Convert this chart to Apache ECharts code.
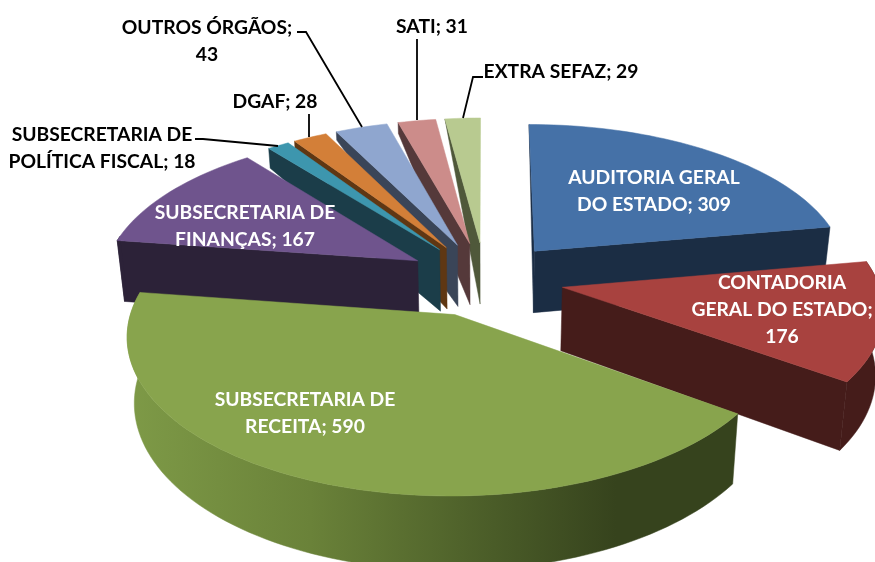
<!DOCTYPE html>
<html>
<head>
<meta charset="utf-8">
<title>Pizza 3D</title>
<script src="https://cdn.jsdelivr.net/npm/echarts@6/dist/echarts.min.js"></script>
<style>
html,body{margin:0;padding:0;background:#fff;}
#main{width:875px;height:562px;}
</style>
</head>
<body>
<div id="main"></div>
<script>
var names = ['AUDITORIA GERAL\nDO ESTADO','CONTADORIA\nGERAL DO ESTADO','SUBSECRETARIA DE\nRECEITA','SUBSECRETARIA DE\nFINANÇAS','SUBSECRETARIA DE\nPOLÍTICA FISCAL','DGAF','OUTROS ÓRGÃOS','SATI','EXTRA SEFAZ'];
var values = [309,176,590,167,18,28,43,31,29];
var valueBreak = [false,true,false,false,false,false,true,false,false];

var topColors = ['#4571A7','#A8423F','#88A44D','#6F548D','#3D96AE','#D37F38','#8FA6CF','#CC8C8A','#B8CA90'];
var wallColors = ['#1B2D44','#451C1A','#36431D','#2C2238','#1B3D49','#5F3713','#3A4558','#55393A','#4F583A'];
// altura da parede no canto de tras (fatia estreita quase some)
var farWall = [0,1,1,1,0.35,0.12,0.15,0.2,0];

var labelX = [654,782,305,245,102,275,207,432,561];
var labelY = [191,310,413,226,148,102,41,27,72];
var labelDark = [false,false,false,false,true,true,true,true,true];
var leaders = [null,null,null,null,
	[[195,139],[203,139],[278,146]],
	[[309,114],[309,137]],
	[[297,32],[306,32],[362,127]],
	[[417,39],[417,120]],
	[[483,77],[473,77],[463,118]]
];

// projecao com perspectiva
var cx = 485, cy = 279, rx = 315, ry = 149, persp = 0.125, explode = 0.25, depth = 63;

var total = 0;
for(var i = 0;i<values.length;i++){
	total += values[i];
}
var angles = [];
var acc = 0;
for(var i = 0;i<values.length;i++){
	var a1 = acc/total*Math.PI*2;
	acc += values[i];
	angles.push([a1,acc/total*Math.PI*2]);
}

function project(u,v,h){
	var s = 1/(1-persp*v);
	var x = rx*u*s;
	var y = ry*v*s;
	return [cx+x*(1-0.02*h),cy+y+depth*h*s];
}
function rimPoint(i,a,h){
	var mid = (angles[i][0]+angles[i][1])/2;
	return project(explode*Math.sin(mid)+Math.sin(a),-explode*Math.cos(mid)-Math.cos(a),h);
}
function apexPoint(i,h){
	var mid = (angles[i][0]+angles[i][1])/2;
	return project(explode*Math.sin(mid),-explode*Math.cos(mid),h);
}
function polygon(points,fill){
	return {type:'polygon',shape:{points:points},style:{fill:fill,stroke:fill,lineWidth:0.5}};
}

function renderSlice(params,api){
	var i = api.value(0);
	var a1 = angles[i][0], a2 = angles[i][1];
	var steps = Math.max(6,Math.round((a2-a1)/0.03));
	var children = [];
	// parede radial de inicio
	if(Math.sin(a1) <= 1e-9){
		children.push(polygon([rimPoint(i,a1,0),apexPoint(i,0),apexPoint(i,1),rimPoint(i,a1,farWall[i])],wallColors[i]));
	}
	// parede radial de fim
	if(Math.sin(a2) > 1e-9){
		children.push(polygon([rimPoint(i,a2,0),apexPoint(i,0),apexPoint(i,1),rimPoint(i,a2,1)],wallColors[i]));
	}
	// parede externa, so a parte voltada para frente
	var wallTop = [], wallBottom = [];
	for(var k = 0;k<=steps;k++){
		var a = a1+(a2-a1)*k/steps;
		if(-Math.cos(a) > -0.2){
			wallTop.push(rimPoint(i,a,0));
			wallBottom.unshift(rimPoint(i,a,1));
		}
	}
	if(wallTop.length > 1){
		var fill = wallColors[i];
		if(i == 2){
			fill = new echarts.graphic.LinearGradient(0,0,1,0,[
				{offset:0,color:'#7E9A47'},
				{offset:0.3,color:'#6A8239'},
				{offset:0.6,color:'#4A5C28'},
				{offset:0.8,color:'#36431D'},
				{offset:1,color:'#36431D'}
			]);
		}
		children.push(polygon(wallTop.concat(wallBottom),fill));
	}
	// tampo
	var top = [apexPoint(i,0)];
	for(var k = 0;k<=steps;k++){
		top.push(rimPoint(i,a1+(a2-a1)*k/steps,0));
	}
	children.push(polygon(top,topColors[i]));
	return {type:'group',children:children};
}

function renderLabel(params,api){
	var i = api.value(0);
	var text = names[i]+'; '+values[i];
	if(valueBreak[i]){
		text = names[i]+';\n'+values[i];
	}
	var children = [];
	if(leaders[i]){
		children.push({type:'polyline',shape:{points:leaders[i]},style:{fill:'none',stroke:'#000',lineWidth:1.8}});
	}
	children.push({type:'text',x:labelX[i],y:labelY[i],style:{
		text:text,
		fill:labelDark[i]?'#000':'#fff',
		font:'bold 19.3px Lato',
		lineHeight:26.8,
		align:'center',
		verticalAlign:'middle'
	}});
	return {type:'group',children:children};
}

// fatias do fundo para a frente
var order = [];
for(var i = 0;i<values.length;i++){
	order.push(i);
}
order.sort(function(a,b){
	return -Math.cos((angles[a][0]+angles[a][1])/2)-(-Math.cos((angles[b][0]+angles[b][1])/2));
});
var sliceData = [];
var labelData = [];
for(var i = 0;i<order.length;i++){
	sliceData.push([order[i],values[order[i]]]);
	labelData.push([i,values[i]]);
}

var myChart = echarts.init(document.getElementById('main'));
myChart.setOption({
	animation:false,
	backgroundColor:'#fff',
	series:[
		{type:'custom',coordinateSystem:'none',renderItem:renderSlice,data:sliceData,z:2,silent:true},
		{type:'custom',coordinateSystem:'none',renderItem:renderLabel,data:labelData,z:3,silent:true}
	]
});
</script>
</body>
</html>
